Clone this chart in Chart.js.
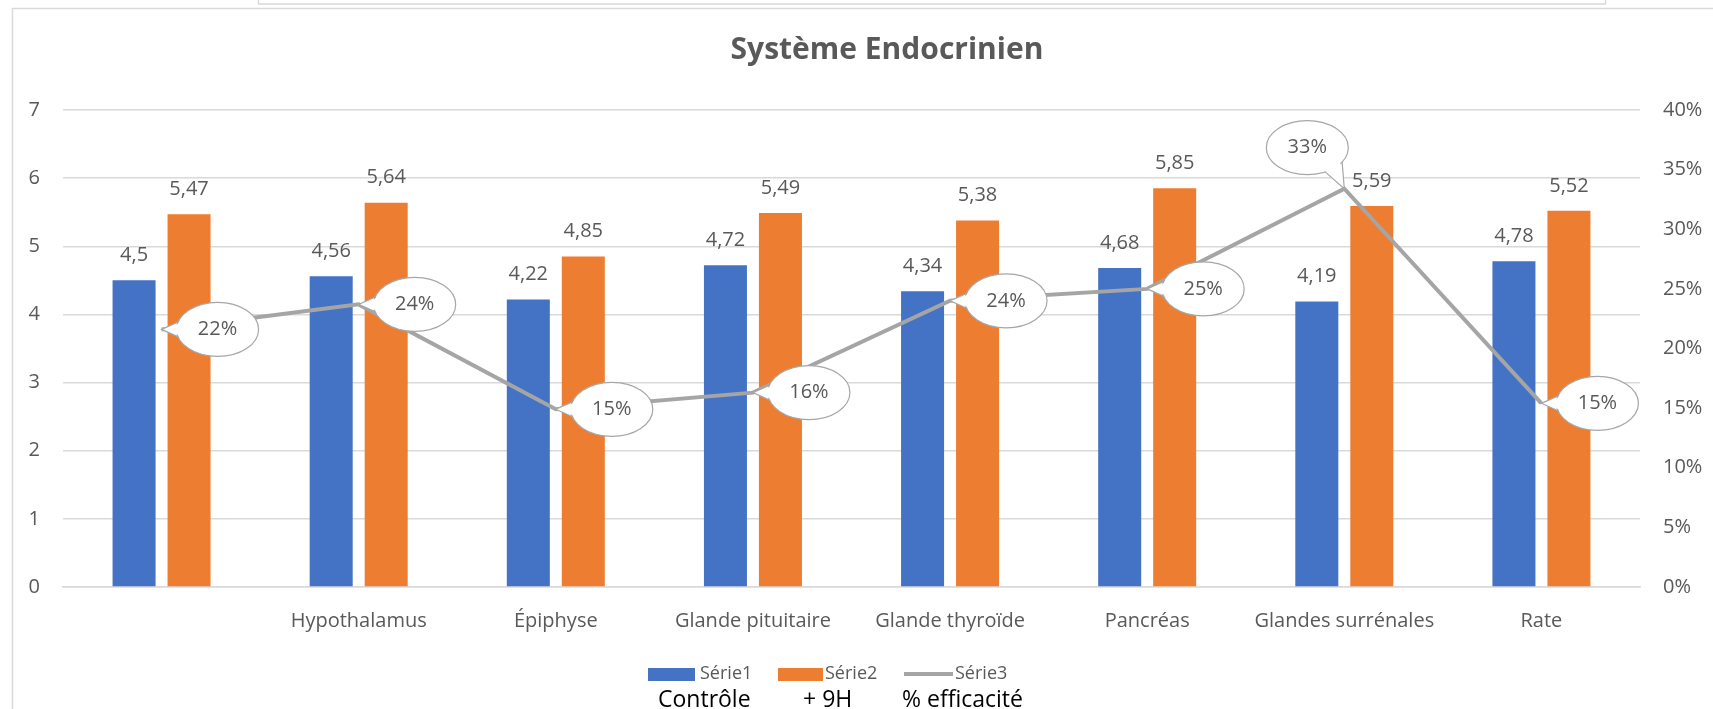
<!DOCTYPE html>
<html>
<head>
<meta charset="utf-8">
<script src="https://cdn.jsdelivr.net/npm/chart.js@4.4.1/dist/chart.umd.min.js"></script>
<style>
html,body{margin:0;padding:0;background:#fff;overflow:hidden;}
#wrap{position:absolute;left:0;top:0;width:1713px;height:709px;}
</style>
</head>
<body>
<div id="wrap"><canvas id="c"></canvas></div>
<script>
// ---- data ----
const chartTitle = 'Système Endocrinien';
const categories = ['', 'Hypothalamus', 'Épiphyse', 'Glande pituitaire', 'Glande thyroïde', 'Pancréas', 'Glandes surrénales', 'Rate'];
const serie1 = [4.5, 4.56, 4.22, 4.72, 4.34, 4.68, 4.19, 4.78];
const serie2 = [5.47, 5.64, 4.85, 5.49, 5.38, 5.85, 5.59, 5.52];
const serie3 = [0.216, 0.237, 0.149, 0.163, 0.240, 0.250, 0.334, 0.154];
const seriesNames = ['Série1', 'Série2', 'Série3'];
const legendNotes = ['Contrôle', '+ 9H', '% efficacité'];
const leftTicks = [0, 7, 1];
const rightTicks = [0, 0.4, 0.05];

const FONT = "'Open Sans', 'Noto Sans', sans-serif";
const TXT = '#595959';
const BLUE = '#4472C4', ORANGE = '#ED7D31', GRAY = '#A5A5A5', GRID = '#D9D9D9';

function fmtNum(v){ return String(v).replace('.', ','); }
function fmtPct(v){ return Math.round(v*100) + '%'; }

const decor = {
  id: 'decor',
  beforeDraw(chart){
    const ctx = chart.ctx;
    ctx.save();
    ctx.strokeStyle = GRID;
    ctx.lineWidth = 1.5;
    ctx.beginPath();
    ctx.moveTo(12.5, 709); ctx.lineTo(12.5, 8.5); ctx.lineTo(1713, 8.5);
    ctx.stroke();
    ctx.strokeRect(258.5, -2, 1347, 6);
    ctx.restore();
  },
  afterDatasetsDraw(chart){
    const ctx = chart.ctx;
    ctx.save();
    // bar value labels
    ctx.font = '20px ' + FONT;
    ctx.fillStyle = TXT;
    ctx.textAlign = 'center';
    ctx.textBaseline = 'middle';
    [0,1].forEach(di => {
      const meta = chart.getDatasetMeta(di);
      meta.data.forEach((el, i) => {
        ctx.fillText(fmtNum(chart.data.datasets[di].data[i]), el.x, el.y - 25);
      });
    });
    // callouts for series 3
    const meta = chart.getDatasetMeta(2);
    const rx = 41, ry = 27;
    meta.data.forEach((el, i) => {
      const off = i === 6 ? {dx: -37, dy: -41} : {dx: 56, dy: 0};
      const cx = el.x + off.dx, cy = el.y + off.dy;
      const px = el.x, py = el.y;
      const ang = Math.atan2(py - cy, px - cx);
      const a1 = ang - 0.28, a2 = ang + 0.28;
      const b1 = [cx + rx*Math.cos(a1), cy + ry*Math.sin(a1)];
      const b2 = [cx + rx*Math.cos(a2), cy + ry*Math.sin(a2)];
      ctx.lineWidth = 1.2;
      ctx.strokeStyle = '#A6A6A6';
      ctx.fillStyle = '#FFFFFF';
      ctx.beginPath();
      ctx.moveTo(b1[0], b1[1]); ctx.lineTo(px, py); ctx.lineTo(b2[0], b2[1]); ctx.closePath();
      ctx.fill(); ctx.stroke();
      ctx.beginPath();
      ctx.ellipse(cx, cy, rx, ry, 0, 0, Math.PI*2);
      ctx.fill(); ctx.stroke();
      ctx.beginPath();
      const s1 = [cx + (rx-2)*Math.cos(a1), cy + (ry-2)*Math.sin(a1)];
      const s2 = [cx + (rx-2)*Math.cos(a2), cy + (ry-2)*Math.sin(a2)];
      ctx.moveTo(s1[0], s1[1]);
      ctx.lineTo(px + (cx-px)*0.12, py + (cy-py)*0.12);
      ctx.lineTo(s2[0], s2[1]); ctx.closePath();
      ctx.fill();
      ctx.fillStyle = TXT;
      ctx.font = '20px ' + FONT;
      ctx.fillText(fmtPct(chart.data.datasets[2].data[i]), cx, cy);
    });
    ctx.restore();
  },
  afterDraw(chart){
    const ctx = chart.ctx;
    ctx.save();
    ctx.textBaseline = 'middle';
    // title
    ctx.fillStyle = TXT;
    ctx.font = 'bold 30px ' + FONT;
    ctx.textAlign = 'center';
    ctx.fillText(chartTitle, 887, 50);
    // legend
    ctx.textAlign = 'left';
    ctx.font = '18px ' + FONT;
    const ly = 674;
    ctx.fillStyle = BLUE; ctx.fillRect(648, ly - 6, 47, 13);
    ctx.fillStyle = TXT; ctx.fillText(seriesNames[0], 700, ly);
    ctx.fillStyle = ORANGE; ctx.fillRect(778, ly - 6, 45, 13);
    ctx.fillStyle = TXT; ctx.fillText(seriesNames[1], 825, ly);
    ctx.strokeStyle = GRAY; ctx.lineWidth = 4;
    ctx.beginPath(); ctx.moveTo(904, ly); ctx.lineTo(953, ly); ctx.stroke();
    ctx.fillStyle = TXT; ctx.fillText(seriesNames[2], 955, ly);
    // notes under legend
    ctx.fillStyle = '#000000';
    ctx.font = '23px ' + FONT;
    ctx.fillText(legendNotes[0], 658, 700);
    ctx.fillText(legendNotes[1], 803, 700);
    ctx.fillText(legendNotes[2], 902, 700);
    ctx.restore();
  }
};

new Chart(document.getElementById('c'), {
  type: 'bar',
  data: {
    labels: categories,
    datasets: [
      {label: seriesNames[0], data: serie1, backgroundColor: BLUE, yAxisID: 'y', order: 1,
       categoryPercentage: 0.558, barPercentage: 0.782},
      {label: seriesNames[1], data: serie2, backgroundColor: ORANGE, yAxisID: 'y', order: 1,
       categoryPercentage: 0.558, barPercentage: 0.782},
      {label: seriesNames[2], data: serie3, type: 'line', borderColor: GRAY, borderWidth: 4,
       pointRadius: 0, fill: false, tension: 0, yAxisID: 'y1', order: 0, clip: false}
    ]
  },
  options: {
    responsive: true,
    maintainAspectRatio: false,
    animation: false,
    devicePixelRatio: 1,
    layout: {padding: {left: 0, right: 0, top: 110, bottom: 62}},
    plugins: {legend: {display: false}, title: {display: false}, tooltip: {enabled: false}},
    scales: {
      x: {
        grid: {display: false},
        border: {display: true, color: GRID, width: 1.5},
        ticks: {color: TXT, font: {family: FONT, size: 20}, padding: 14, maxRotation: 0, autoSkip: false},
        afterFit(s){ s.height = 60; }
      },
      y: {
        position: 'left', min: leftTicks[0], max: leftTicks[1],
        ticks: {stepSize: leftTicks[2], color: TXT, font: {family: FONT, size: 20}, padding: 23},
        grid: {color: GRID, lineWidth: 1.5, drawTicks: false},
        border: {display: false},
        afterFit(s){ s.width = 63; }
      },
      y1: {
        position: 'right', min: rightTicks[0], max: rightTicks[1],
        ticks: {stepSize: rightTicks[2], color: TXT, font: {family: FONT, size: 20}, padding: 23,
                callback: v => fmtPct(v)},
        grid: {display: false, drawTicks: false},
        border: {display: false},
        afterFit(s){ s.width = 73; }
      }
    }
  },
  plugins: [decor]
});
</script>
</body>
</html>
